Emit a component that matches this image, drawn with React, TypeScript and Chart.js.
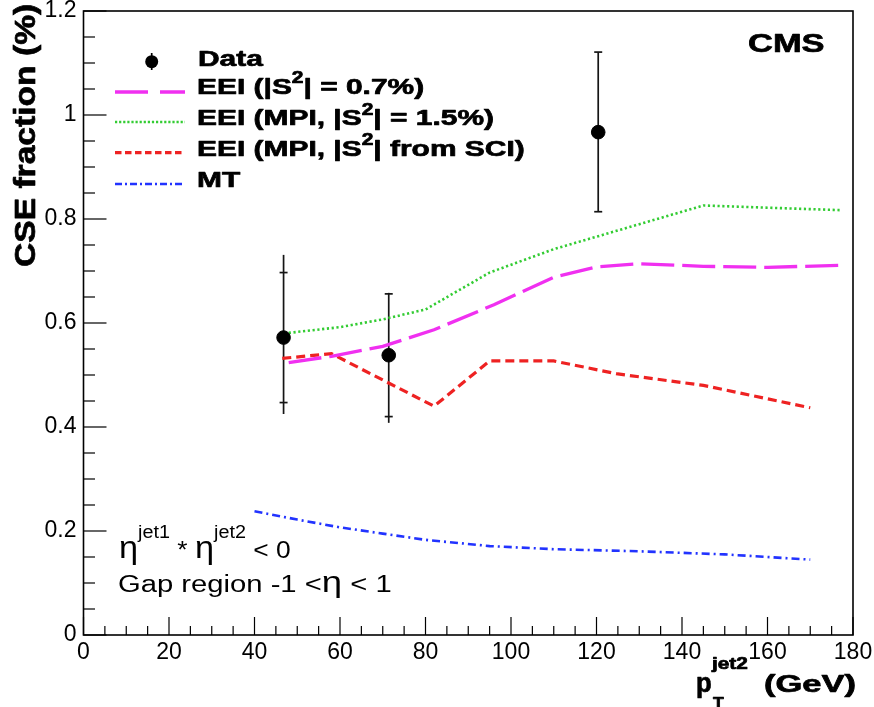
import React, { useEffect, useRef } from 'react';
import { Chart, registerables } from 'chart.js';

Chart.register(...registerables);

// ---------------- data ----------------
const dataX = [46.8, 71.4, 120.4];
const dataY = [0.572, 0.538, 0.967];
const statLow = [0.447, 0.42, 0.814];
const statHigh = [0.697, 0.656, 1.121];
const totLow = [0.425, 0.408, 0.814];
const totHigh = [0.731, 0.658, 1.121];

const eei07X = [48, 58, 70, 82, 96, 110, 120, 130, 145, 160, 177];
const eei07Y = [0.524, 0.536, 0.555, 0.587, 0.635, 0.688, 0.708, 0.714, 0.709, 0.707, 0.711];

const eeiMpiX = [48, 60, 70, 80, 95, 110, 145, 177];
const eeiMpiY = [0.581, 0.592, 0.607, 0.626, 0.697, 0.742, 0.826, 0.817];

const eeiSciX = [46.5, 58, 82, 95, 110, 125, 145, 170];
const eeiSciY = [0.532, 0.541, 0.44, 0.527, 0.527, 0.502, 0.48, 0.437];

const mtX = [40, 50, 60, 70, 80, 95, 110, 130, 150, 170];
const mtY = [0.238, 0.222, 0.207, 0.195, 0.183, 0.171, 0.165, 0.161, 0.155, 0.145];

const xTickValues = [0, 20, 40, 60, 80, 100, 120, 140, 160, 180];
const xTickLabels = ['0', '20', '40', '60', '80', '100', '120', '140', '160', '180'];
const yTickValues = [0, 0.2, 0.4, 0.6, 0.8, 1.0, 1.2];
const yTickLabels = ['0', '0.2', '0.4', '0.6', '0.8', '1', '1.2'];
const xMinorStep = 5;
const yMinorStep = 0.05;

const legendLabels = ['Data', 'EEI', 'EEI (MPI', 'EEI (MPI', 'MT'];

const FAMILY = '"Liberation Sans", Arial, Helvetica, sans-serif';

const COL_MAG = '#f030f0';
const COL_GREEN = '#33cc33';
const COL_RED = '#ee2222';
const COL_BLUE = '#2233ff';

type Seg = { t: string; sup?: boolean; sub?: boolean; k?: number };

function drawRich(
  ctx: CanvasRenderingContext2D,
  x: number,
  y: number,
  segs: Seg[],
  size: number,
  bold: boolean,
  hs: number,
  supScale = 0.7,
  supRaise = 0.45,
  subDrop = 0.35
) {
  ctx.save();
  ctx.translate(x, y);
  ctx.scale(hs, 1);
  ctx.textBaseline = 'alphabetic';
  ctx.textAlign = 'left';
  ctx.fillStyle = '#000';
  ctx.strokeStyle = '#000';
  ctx.lineWidth = 0.7;
  ctx.lineJoin = 'round';
  let cx = 0;
  const b = bold ? 'bold ' : '';
  for (const s of segs) {
    const sz = (s.sup || s.sub ? size * supScale : size) * (s.k ?? 1);
    ctx.font = `${b}${sz}px ${FAMILY}`;
    const dy = s.sup ? -size * supRaise : s.sub ? size * subDrop : 0;
    ctx.fillText(s.t, cx, dy);
    if (bold) ctx.strokeText(s.t, cx, dy);
    cx += ctx.measureText(s.t).width;
  }
  ctx.restore();
}

function strokeSeg(ctx: CanvasRenderingContext2D, x1: number, y1: number, x2: number, y2: number) {
  ctx.beginPath();
  ctx.moveTo(x1, y1);
  ctx.lineTo(x2, y2);
  ctx.stroke();
}

const customPlugin = {
  id: 'rootStyle',
  beforeDatasetsDraw(chart: any) {
    const ctx: CanvasRenderingContext2D = chart.ctx;
    const xs = chart.scales.x;
    const ys = chart.scales.y;
    ctx.save();
    ctx.strokeStyle = '#151515';
    ctx.lineWidth = 1.7;
    for (let i = 0; i < dataX.length; i++) {
      const px = xs.getPixelForValue(dataX[i]);
      strokeSeg(ctx, px, ys.getPixelForValue(totLow[i]), px, ys.getPixelForValue(totHigh[i]));
      const a = ys.getPixelForValue(statLow[i]);
      const c = ys.getPixelForValue(statHigh[i]);
      strokeSeg(ctx, px - 4, a, px + 4, a);
      strokeSeg(ctx, px - 4, c, px + 4, c);
    }
    ctx.restore();
  },
  afterDraw(chart: any) {
    const ctx: CanvasRenderingContext2D = chart.ctx;
    const xs = chart.scales.x;
    const ys = chart.scales.y;
    const area = chart.chartArea;
    ctx.save();
    ctx.fillStyle = '#000';
    ctx.strokeStyle = '#000';
    // frame
    ctx.lineWidth = 1.6;
    ctx.strokeRect(area.left, area.top, area.right - area.left, area.bottom - area.top);
    // ticks x
    ctx.lineWidth = 1.2;
    for (let v = 0; v <= 180 + 1e-6; v += xMinorStep) {
      const px = xs.getPixelForValue(v);
      const major = Math.abs(v % 20) < 1e-6;
      const len = major ? 18 : 9;
      strokeSeg(ctx, px, area.bottom, px, area.bottom - len);
    }
    for (let k = 0; k <= 24; k++) {
      const v = k * yMinorStep;
      const py = ys.getPixelForValue(v);
      const major = k % 4 === 0;
      const len = major ? 23 : 11.5;
      strokeSeg(ctx, area.left, py, area.left + len, py);
    }

    // y title (rotated)
    ctx.save();
    ctx.translate(35, 267);
    ctx.rotate(-Math.PI / 2);
    drawRich(ctx, 0, 0, [{ t: 'CSE fraction (%)' }], 30, true, 1.12);
    ctx.restore();

    // x title
    drawRich(ctx, 696, 692, [{ t: 'p' }], 27, true, 0.95);
    drawRich(ctx, 712, 669, [{ t: 'jet2' }], 16, true, 1.3);
    drawRich(ctx, 713, 709, [{ t: 'T' }], 16, true, 1.1);
    drawRich(ctx, 764, 692, [{ t: '(GeV)' }], 23, true, 1.5);

    // CMS
    drawRich(ctx, 748, 52, [{ t: 'CMS' }], 26.5, true, 1.3);

    // annotations
    drawRich(
      ctx,
      119,
      558,
      [
        { t: 'η', k: 1.3 },
        { t: 'jet1', sup: true },
        { t: ' * ' },
        { t: 'η', k: 1.3 },
        { t: 'jet2', sup: true },
        { t: ' < 0' },
      ],
      24,
      false,
      1.1,
      0.75,
      0.85
    );
    drawRich(
      ctx,
      118,
      592,
      [{ t: 'Gap region -1 <' }, { t: 'η', k: 1.25 }, { t: ' < 1' }],
      23,
      false,
      1.27
    );

    // legend
    const lx1 = 115;
    const lx2 = 185;
    const tx = 197;
    // Data marker
    ctx.lineWidth = 1.7;
    strokeSeg(ctx, 151.7, 53, 151.7, 70);
    ctx.beginPath();
    ctx.arc(151.7, 61.7, 6.5, 0, Math.PI * 2);
    ctx.fill();
    drawRich(ctx, tx + 1, 66, [{ t: legendLabels[0] }], 22.5, true, 1.33);

    const lineRow = (y: number, color: string, dash: number[], w: number) => {
      ctx.save();
      ctx.strokeStyle = color;
      ctx.lineWidth = w;
      ctx.setLineDash(dash);
      strokeSeg(ctx, lx1, y, lx2, y);
      ctx.restore();
    };
    lineRow(92, COL_MAG, [33, 12], 3.3);
    drawRich(
      ctx,
      tx,
      93.5,
      [{ t: legendLabels[1] + ' (|S' }, { t: '2', sup: true }, { t: '| = 0.7%)' }],
      22.5,
      true,
      1.33
    );
    lineRow(122, COL_GREEN, [2.2, 1.9], 2.6);
    drawRich(
      ctx,
      tx,
      125,
      [{ t: legendLabels[2] + ', |S' }, { t: '2', sup: true }, { t: '| = 1.5%)' }],
      22.5,
      true,
      1.33
    );
    lineRow(152.7, COL_RED, [6.5, 3.5], 3.2);
    drawRich(
      ctx,
      tx,
      155.5,
      [{ t: legendLabels[3] + ', |S' }, { t: '2', sup: true }, { t: '| from SCI)' }],
      22.5,
      true,
      1.33
    );
    lineRow(184, COL_BLUE, [7, 3, 2, 3], 2.6);
    drawRich(ctx, tx, 187, [{ t: legendLabels[4] }], 22.5, true, 1.33);

    ctx.restore();
  },
};

function toPts(xv: number[], yv: number[]) {
  return xv.map((x, i) => ({ x, y: yv[i] }));
}

export default function App() {
  const ref = useRef<HTMLCanvasElement | null>(null);

  useEffect(() => {
    if (!ref.current) return;
    Chart.defaults.font.family = FAMILY;
    const chart = new Chart(ref.current, {
      type: 'scatter',
      data: {
        datasets: [
          {
            label: 'Data',
            data: toPts(dataX, dataY),
            backgroundColor: '#000',
            borderColor: '#000',
            pointRadius: 6.8,
            pointHoverRadius: 6.8,
            showLine: false,
          },
          {
            label: 'EEI (|S2| = 0.7%)',
            data: toPts(eei07X, eei07Y),
            borderColor: COL_MAG,
            borderWidth: 3.3,
            borderDash: [33, 8],
            pointRadius: 0,
            showLine: true,
            tension: 0,
          },
          {
            label: 'EEI (MPI, |S2| = 1.5%)',
            data: toPts(eeiMpiX, eeiMpiY),
            borderColor: COL_GREEN,
            borderWidth: 2.6,
            borderDash: [2.2, 2.6],
            pointRadius: 0,
            showLine: true,
            tension: 0,
          },
          {
            label: 'EEI (MPI, |S2| from SCI)',
            data: toPts(eeiSciX, eeiSciY),
            borderColor: COL_RED,
            borderWidth: 3.2,
            borderDash: [9, 5],
            pointRadius: 0,
            showLine: true,
            tension: 0,
          },
          {
            label: 'MT',
            data: toPts(mtX, mtY),
            borderColor: COL_BLUE,
            borderWidth: 2.6,
            borderDash: [8, 4, 2, 4],
            pointRadius: 0,
            showLine: true,
            tension: 0,
          },
        ],
      },
      options: {
        animation: false,
        responsive: false,
        devicePixelRatio: 1,
        events: [],
        layout: { padding: { top: 11, right: 21, left: 0, bottom: 0 } },
        plugins: {
          legend: { display: false },
          tooltip: { enabled: false },
          title: { display: false },
        },
        scales: {
          x: {
            type: 'linear',
            min: 0,
            max: 180,
            grid: { display: false, drawTicks: false },
            border: { display: false },
            afterBuildTicks: (s: any) => {
              s.ticks = xTickValues.map((v) => ({ value: v }));
            },
            afterFit: (s: any) => {
              s.height = 72;
              s.paddingLeft = 0;
              s.paddingRight = 0;
            },
            ticks: {
              color: '#000',
              font: { size: 23, family: FAMILY },
              padding: 4,
              maxRotation: 0,
              autoSkip: false,
              callback: (v: any) => {
                const i = xTickValues.indexOf(Number(v));
                return i >= 0 ? xTickLabels[i] : '';
              },
            },
          },
          y: {
            type: 'linear',
            min: 0,
            max: 1.2,
            grid: { display: false, drawTicks: false },
            border: { display: false },
            afterBuildTicks: (s: any) => {
              s.ticks = yTickValues.map((v) => ({ value: v }));
            },
            afterFit: (s: any) => {
              s.width = 83.5;
              s.paddingTop = 0;
              s.paddingBottom = 0;
            },
            ticks: {
              color: '#000',
              font: { size: 23, family: FAMILY },
              padding: 7,
              autoSkip: false,
              callback: (v: any) => {
                const i = yTickValues.findIndex((t) => Math.abs(t - Number(v)) < 1e-6);
                return i >= 0 ? yTickLabels[i] : '';
              },
            },
          },
        },
      },
      plugins: [customPlugin],
    } as any);
    return () => chart.destroy();
  }, []);

  return (
    <div style={{ position: 'absolute', left: 0, top: 0, width: 874, height: 707, background: '#fff' }}>
      <canvas ref={ref} width={874} height={707} style={{ display: 'block', width: 874, height: 707 }} />
    </div>
  );
}
